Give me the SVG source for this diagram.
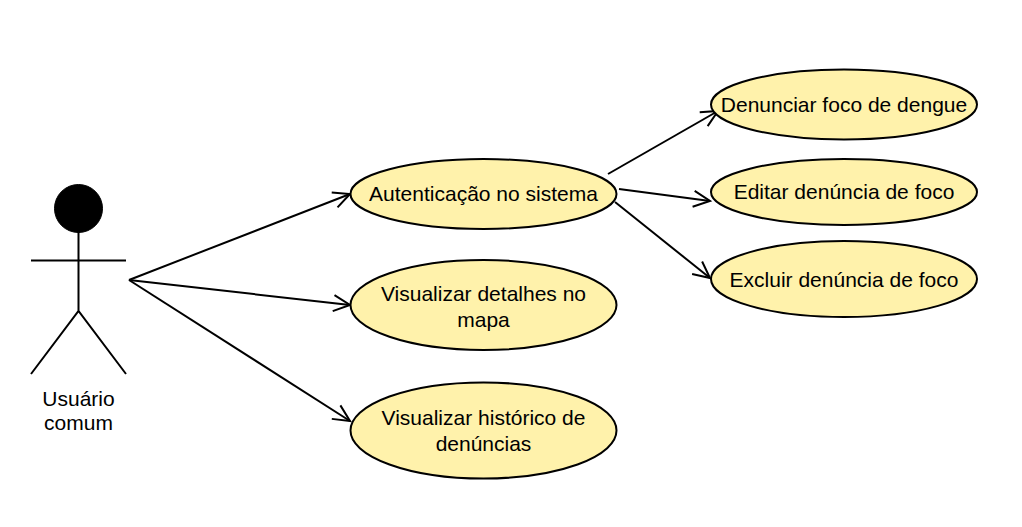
<svg xmlns="http://www.w3.org/2000/svg" width="1022" height="527" viewBox="0 0 1022 527">
<style>
.u{fill:#fff2ab;stroke:#000;stroke-width:2}
.t{font-family:"Liberation Sans",Arial,sans-serif;font-size:21px;fill:#000;text-anchor:middle}
.l{fill:none;stroke:#000;stroke-width:2}
</style>
<defs>
<marker id="a" markerUnits="userSpaceOnUse" markerWidth="24" markerHeight="24" refX="18" refY="10" orient="auto" overflow="visible"><path d="M1.500 2L18 10L1.500 18" fill="none" stroke="#000" stroke-width="2"/></marker>
</defs>
<rect width="1022" height="527" fill="#fff"/>
<g id="connectors" class="l">
<path d="M129 280L350 194" marker-end="url(#a)"/>
<path d="M129 280L350 305" marker-end="url(#a)"/>
<path d="M129 280L350 421" marker-end="url(#a)"/>
<path d="M608 174L718 111" marker-end="url(#a)"/>
<path d="M619 189L710 201" marker-end="url(#a)"/>
<path d="M615 202L710 278" marker-end="url(#a)"/>
</g>
<g id="actor">
<circle cx="78.500" cy="208.500" r="24" fill="#000" stroke="#000"/>
<path class="l" d="M78.500 232V311M31 260.500H126M31 374L78.500 311L126 374"/>
<text class="t" x="78.500" y="406">Usuário</text>
<text class="t" x="78.500" y="430">comum</text>
</g>
<g id="auth"><ellipse class="u" cx="483.500" cy="194" rx="133" ry="35"/><text class="t" x="483.500" y="201">Autenticação no sistema</text></g>
<g id="detalhes"><ellipse class="u" cx="483.500" cy="305" rx="133" ry="45"/><text class="t" x="483.500" y="301">Visualizar detalhes no</text><text class="t" x="483.500" y="327">mapa</text></g>
<g id="historico"><ellipse class="u" cx="483.500" cy="430.500" rx="133" ry="48"/><text class="t" x="483.500" y="425">Visualizar histórico de</text><text class="t" x="483.500" y="451">denúncias</text></g>
<g id="denunciar"><ellipse class="u" cx="844" cy="104.500" rx="133" ry="35"/><text class="t" x="844" y="112">Denunciar foco de dengue</text></g>
<g id="editar"><ellipse class="u" cx="844" cy="192" rx="133" ry="33"/><text class="t" x="844" y="199">Editar denúncia de foco</text></g>
<g id="excluir"><ellipse class="u" cx="844" cy="279" rx="133" ry="38"/><text class="t" x="844" y="287">Excluir denúncia de foco</text></g>
</svg>
